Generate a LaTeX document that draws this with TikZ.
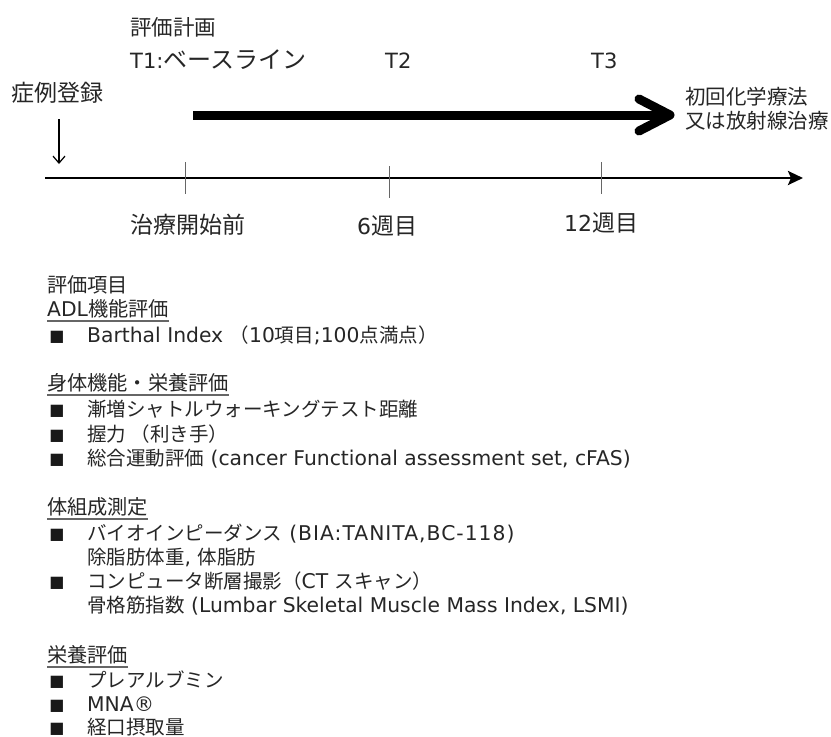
\documentclass[tikz,border=0pt]{standalone}
\usepackage{fontspec}
\setmainfont{DejaVu Sans}
\newfontfamily\jp{Noto Sans CJK JP}
\newfontfamily\latw{DejaVu Sans}[LetterSpace=5]
\usetikzlibrary{arrows.meta}
\newcommand{\J}[1]{{\jp\fontsize{19.5}{19.5}\selectfont #1}}
\begin{document}
\setbox0\hbox{\jp\fontsize{20}{20}\selectfont 評価}\setbox0\hbox{}%
\begin{tikzpicture}[x=1pt,y=-1pt,
  lbl/.style={anchor=base west, inner sep=0pt, text=black!85},
  top/.style={lbl, font=\fontsize{21}{21}\selectfont},
  jtop/.style={lbl, font={\jp\fontsize{#1}{#1}\selectfont}},
  body/.style={lbl, font={\fontsize{20.3}{20.3}\selectfont}},
  jbody/.style={lbl, font={\jp\fontsize{19.5}{19.5}\selectfont}},
  jhead/.style={lbl, font={\jp\fontsize{20.2}{20.2}\selectfont}},
  bul/.style={anchor=base, inner sep=0pt, text=black!90, font=\fontsize{16}{16}\selectfont},
  uline/.style={black!60, line width=1.2pt},
  tick/.style={black!60, line width=1pt}]
\useasboundingbox[fill=white] (0,0) rectangle (831,737);

% --- top labels
\node[jtop=21.5] (plan) at (130,35) {評価計画};
\node[top] (t1) at (130,68) {T1:{\jp\fontsize{24}{24}\selectfont ベースライン}};
\node[top] (t2) at (385,68) {T2};
\node[top] (t3) at (591,68) {T3};
\node[jtop=23] (reg) at (11,101) {症例登録};
\node[jtop=20.5] (chemo1) at (685,104) {初回化学療法};
\node[jtop=20.5] (chemo2) at (685,128) {又は放射線治療};
\node[jtop=23] (w0) at (130,233) {治療開始前};
\node[top, font=\fontsize{22}{22}\selectfont] (w6) at (357,234) {6{\jp\fontsize{23}{23}\selectfont 週目}};
\node[top, font=\fontsize{22}{22}\selectfont] (w12) at (564,231) {12{\jp\fontsize{23}{23}\selectfont 週目}};

% --- timeline
\coordinate (tl0) at (45,178);
\coordinate (tl1) at (803,178);
\draw[line width=2.6pt, -{Stealth[length=15pt,width=14pt,inset=3pt]}] (tl0) -- (tl1);
\coordinate (k1a) at (185,162); \coordinate (k1b) at (185,194);
\coordinate (k2a) at (389,166); \coordinate (k2b) at (389,198);
\coordinate (k3a) at (601,162); \coordinate (k3b) at (601,194);
\draw[tick] (k1a) -- (k1b);
\draw[tick] (k2a) -- (k2b);
\draw[tick] (k3a) -- (k3b);

% --- registration arrow
\coordinate (da0) at (59,119);
\coordinate (da1) at (59,164);
\draw[line width=1.2pt, -{Straight Barb[length=7pt,width=12pt]}] (da0) -- (da1);

% --- bold arrow
\coordinate (ba0) at (193,115);
\coordinate (ba1) at (670,115);
\coordinate (bh1) at (639,99);
\coordinate (bh2) at (639,131);
\draw[line width=9pt] (ba0) -- (ba1);
\draw[line width=9pt, line cap=round, line join=round] (bh1) -- (ba1) -- (bh2);

% --- item list
\node[jhead] (h0) at (47,292) {評価項目};
\node[body] (h1) at (47,316) {ADL{\jp\fontsize{20.2}{20.2}\selectfont 機能評価}};
\draw[uline] ([yshift=-5pt]h1.base west) -- ([yshift=-5pt]h1.base east);
\node[bul] (b1) at (57,341) {■};
\node[body] (i1) at (87,342) {Barthal Index \J{（}10\J{項目};100\J{点満点）}};

\node[jhead] (h2) at (47,390) {身体機能・栄養評価};
\draw[uline] ([yshift=-5pt]h2.base west) -- ([yshift=-5pt]h2.base east);
\node[bul] (b2) at (57,415) {■};
\node[jbody] (i2) at (87,416) {漸増シャトルウォーキングテスト距離};
\node[bul] (b3) at (57,440) {■};
\node[jbody] (i3) at (87,441) {握力 （利き手）};
\node[bul] (b4) at (57,464) {■};
\node[body] (i4) at (87,465) {\J{総合運動評価} (cancer Functional assessment set, cFAS)};

\node[jhead] (h3) at (47,514) {体組成測定};
\draw[uline] ([yshift=-5pt]h3.base west) -- ([yshift=-5pt]h3.base east);
\node[bul] (b5) at (57,539) {■};
\node[body] (i5) at (87,540) {\J{バイオインピーダンス}{\latw\fontsize{20.3}{20.3}\selectfont{} (BIA:TANITA,BC-118)}};
\node[body] (i5b) at (87,564) {\J{除脂肪体重}, \J{体脂肪}};
\node[bul] (b6) at (57,587) {■};
\node[body] (i6) at (87,588) {\J{コンピュータ断層撮影（}CT \J{スキャン）}};
\node[body] (i6b) at (87,612) {\J{骨格筋指数} (Lumbar Skeletal Muscle Mass Index, LSMI)};

\node[jhead] (h4) at (47,662) {栄養評価};
\draw[uline] ([yshift=-5pt]h4.base west) -- ([yshift=-5pt]h4.base east);
\node[bul] (b7) at (57,686) {■};
\node[jbody] (i7) at (87,687) {プレアルブミン};
\node[bul] (b8) at (57,710) {■};
\node[body] (i8) at (87,711) {MNA®};
\node[bul] (b9) at (57,733) {■};
\node[jbody] (i9) at (87,734) {経口摂取量};
\end{tikzpicture}
\end{document}
